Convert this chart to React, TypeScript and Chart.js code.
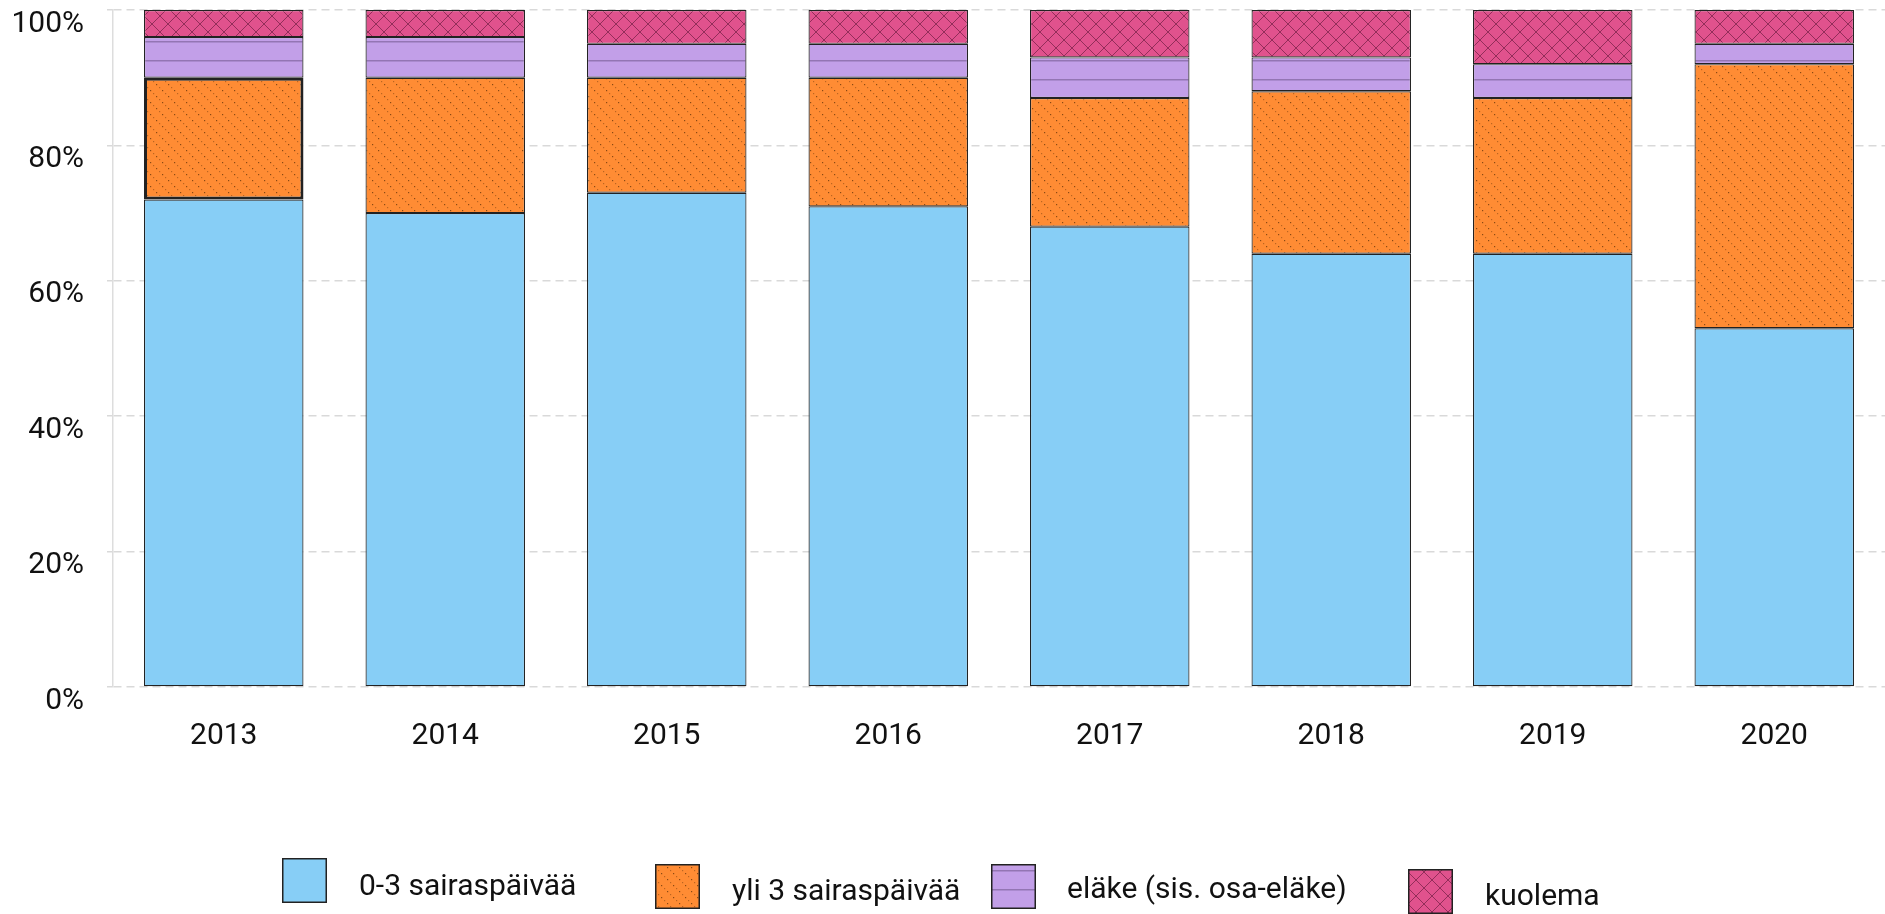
import React, { useEffect, useRef } from 'react';
import { Chart, registerables } from 'chart.js';

Chart.register(...registerables);

// ---- data ----
const YEARS = ['2013', '2014', '2015', '2016', '2017', '2018', '2019', '2020'];
const SHORT_SICK = [72, 70, 73, 71, 68, 64, 64, 53];
const LONG_SICK = [18, 20, 17, 19, 19, 24, 23, 39];
const PENSION = [6, 6, 5, 5, 6, 5, 5, 3];
const DEATH = [4, 4, 5, 5, 7, 7, 8, 5];
const SERIES_LABELS = ['0-3 sairaspäivää', 'yli 3 sairaspäivää', 'eläke (sis. osa-eläke)', 'kuolema'];
const Y_MAX = 100;
const Y_STEP = 20;

// ---- styling ----
const COLORS = ['#87CEF6', '#FF8C34', '#C29FE8', '#E0528D'];
const KINDS = ['plain', 'dots', 'lines', 'cross'] as const;
const HIGHLIGHT_INDEX = 0; // 2013 orange segment drawn with a heavier outline
const FONT = 'Roboto';

// legend placement (px within the 1885x914 canvas)
const LEGEND_POS = [
  { bx: 282, by: 858, tx: 359, ty: 895 },
  { bx: 655, by: 864, tx: 732, ty: 900 },
  { bx: 991, by: 864, tx: 1067, ty: 898 },
  { bx: 1408, by: 869, tx: 1485, ty: 905 },
];
const LEGEND_BOX = 45;

function makePattern(kind: string, color: string): CanvasPattern | string {
  if (kind === 'plain') return color;
  const c = document.createElement('canvas');
  const ctx = c.getContext('2d')!;
  if (kind === 'dots') {
    c.width = 12; c.height = 12;
    ctx.fillStyle = color; ctx.fillRect(0, 0, 12, 12);
    for (let i = 0; i < 4; i++) {
      ctx.fillStyle = i % 2 === 0 ? 'rgba(60,30,0,0.6)' : 'rgba(60,30,0,0.35)';
      ctx.fillRect(i * 3, i * 3, 1.2, 1.2);
    }
  } else if (kind === 'lines') {
    c.width = 8; c.height = 19;
    ctx.fillStyle = color; ctx.fillRect(0, 0, 8, 19);
    ctx.fillStyle = 'rgba(60,40,80,0.35)';
    ctx.fillRect(0, 3, 8, 1.5);
  } else if (kind === 'cross') {
    c.width = 16; c.height = 16;
    ctx.fillStyle = color; ctx.fillRect(0, 0, 16, 16);
    ctx.strokeStyle = 'rgba(70,10,40,0.5)';
    ctx.lineWidth = 1;
    ctx.beginPath();
    ctx.moveTo(-2, -2); ctx.lineTo(18, 18);
    ctx.moveTo(18, -2); ctx.lineTo(-2, 18);
    ctx.stroke();
  }
  return ctx.createPattern(c, 'repeat')!;
}

export default function App() {
  const ref = useRef<HTMLCanvasElement | null>(null);

  useEffect(() => {
    if (!ref.current) return;
    const fills = KINDS.map((k, i) => makePattern(k, COLORS[i]));
    const values = [SHORT_SICK, LONG_SICK, PENSION, DEATH];

    const legendPlugin = {
      id: 'patternLegend',
      afterDraw(chart: any) {
        const ctx: CanvasRenderingContext2D = chart.ctx;
        ctx.save();
        chart.data.datasets.forEach((ds: any, i: number) => {
          const p = LEGEND_POS[i];
          ctx.save();
          ctx.translate(p.bx, p.by + 3);
          ctx.fillStyle = fills[i] as any;
          ctx.fillRect(0, -3, LEGEND_BOX, LEGEND_BOX);
          ctx.restore();
          ctx.strokeStyle = '#222';
          ctx.lineWidth = 1.5;
          ctx.strokeRect(p.bx + 0.75, p.by + 0.75, LEGEND_BOX - 1.5, LEGEND_BOX - 1.5);
          ctx.fillStyle = '#111';
          ctx.font = `30px ${FONT}`;
          ctx.textBaseline = 'alphabetic';
          ctx.textAlign = 'left';
          ctx.fillText(ds.label, p.tx, p.ty);
        });
        ctx.restore();
      },
    };

    const chart = new Chart(ref.current, {
      type: 'bar',
      data: {
        labels: YEARS,
        datasets: values.map((v, i) => ({
          label: SERIES_LABELS[i],
          data: v,
          backgroundColor: fills[i] as any,
          borderColor: '#222',
          borderWidth: (c: any) => (i === 1 && c.dataIndex === HIGHLIGHT_INDEX ? 3 : 1.2),
          borderSkipped: false,
        })),
      },
      options: {
        animation: false,
        responsive: false,
        maintainAspectRatio: false,
        layout: { padding: { top: 10, right: 0, left: 0, bottom: 127 } },
        plugins: { legend: { display: false }, tooltip: { enabled: false }, title: { display: false } },
        scales: {
          x: {
            stacked: true,
            grid: { display: false, drawTicks: false },
            border: { display: false },
            ticks: { color: '#111', font: { family: FONT, size: 30 }, padding: 31, maxRotation: 0 },
            afterFit: (s: any) => { s.height = 100; s.paddingLeft = 0; s.paddingRight = 0; },
          },
          y: {
            stacked: true,
            min: 0,
            max: Y_MAX,
            grid: { color: '#d9d9d9', lineWidth: 1.5, tickLength: 6, drawTicks: true, tickColor: '#d9d9d9' },
            border: { display: true, color: '#dddddd', width: 1.5, dash: [8, 5] },
            ticks: {
              stepSize: Y_STEP,
              color: '#111',
              font: { family: FONT, size: 30 },
              padding: 23,
              labelOffset: 14,
              callback: (v: any) => `${v}%`,
            },
            afterFit: (s: any) => { s.width = 113; s.paddingTop = 0; s.paddingBottom = 0; },
          },
        },
      },
      plugins: [legendPlugin],
    });
    return () => chart.destroy();
  }, []);

  return (
    <div style={{ position: 'fixed', left: 0, top: 0, width: 1885, height: 914, background: '#fff' }}>
      <canvas ref={ref} width={1885} height={914} style={{ display: 'block', width: 1885, height: 914 }} />
    </div>
  );
}
